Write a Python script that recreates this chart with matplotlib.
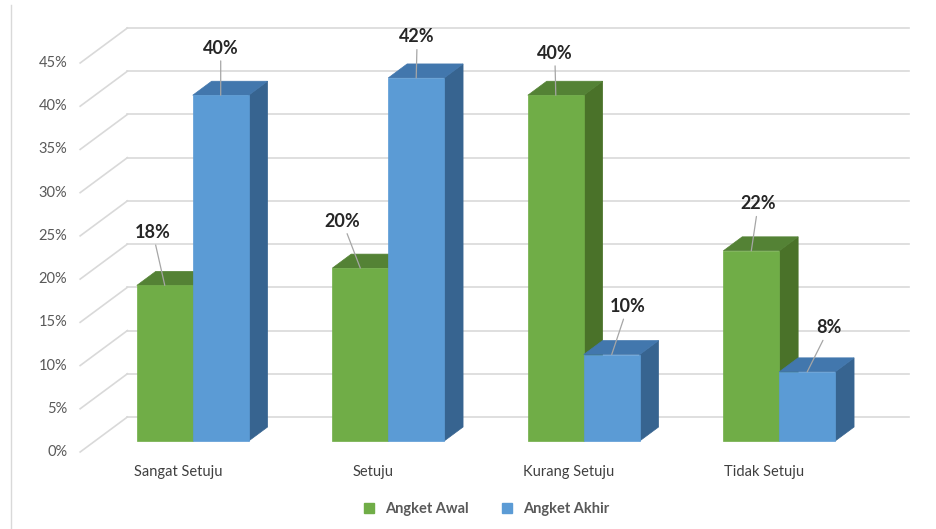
import matplotlib.pyplot as plt
from matplotlib.patches import Polygon
from matplotlib.lines import Line2D

# data
categories = ['Sangat Setuju', 'Setuju', 'Kurang Setuju', 'Tidak Setuju']
series_names = ['Angket Awal', 'Angket Akhir']
angket_awal = [18, 20, 40, 22]
angket_akhir = [40, 42, 10, 8]
y_ticks = [0, 5, 10, 15, 20, 25, 30, 35, 40, 45]

# styling
plt.rcParams['font.family'] = ['Lato', 'DejaVu Sans']
face_colors = [('#70ad47', '#548235', '#4a7229'),   # front, top, side
               ('#5b9bd5', '#4277ad', '#376490')]
label_offsets = [[(-12, 53), (-18, 47), (-1, 42), (7, 47)],
                 [(0, 47), (1, 41), (16, 48), (22, 44)]]
grid_color = '#d9d9d9'
text_color = '#595959'

W, H = 936, 529
fig = plt.figure(figsize=(W / 100, H / 100), dpi=100)
ax = fig.add_axes([95 / W, 88 / H, 782 / W, 389 / H])
ax.set_xlim(-0.5, len(categories) - 0.5)
ax.set_ylim(0, 45)
ax.set_axis_off()

# fake depth: one depth unit = 1.35 px right, 1 px up
px_x = 782 / len(categories)
px_y = 389 / 45
kx, ky = 1.35 / px_x, 1.0 / px_y


def shift(x, y, d):
    return (x + d * kx, y + d * ky)


D_LABEL, D_BAR0, D_BAR1, D_WALL = -11, 0, 14, 24
x_lo, x_hi = ax.get_xlim()

# back wall grid + side diagonals
for t in y_ticks:
    a = shift(x_lo, t, D_WALL)
    b = shift(x_hi, t, D_WALL)
    ax.plot([a[0], b[0]], [a[1], b[1]], color=grid_color, lw=1.2,
            zorder=1, clip_on=False)
    c = shift(x_lo, t, D_LABEL)
    ax.plot([c[0], a[0]], [c[1], a[1]], color=grid_color, lw=1.2,
            zorder=1, clip_on=False)
    ax.annotate(f'{t}%', xy=c, xytext=(-13, 0), textcoords='offset pixels',
                ha='right', va='center', fontsize=10.5, color=text_color,
                annotation_clip=False)

# bars
bar_w = 0.286
for i, cat in enumerate(categories):
    for j, vals in enumerate([angket_awal, angket_akhir]):
        v = vals[i]
        front, top, side = face_colors[j]
        x0 = i - bar_w + j * bar_w
        x1 = x0 + bar_w
        side_poly = [(x1, 0), (x1, v), shift(x1, v, D_BAR1), shift(x1, 0, D_BAR1)]
        top_poly = [(x0, v), (x1, v), shift(x1, v, D_BAR1), shift(x0, v, D_BAR1)]
        front_poly = [(x0, 0), (x1, 0), (x1, v), (x0, v)]
        for poly, col in [(side_poly, side), (top_poly, top), (front_poly, front)]:
            ax.add_patch(Polygon(poly, closed=True, facecolor=col, edgecolor=col,
                                 lw=0.5, zorder=3, clip_on=False))
        dx, dy = label_offsets[j][i]
        ax.annotate(f'{v}%', xy=(x0 + bar_w / 2, v), xytext=(dx, dy),
                    textcoords='offset pixels', ha='center', va='center',
                    fontsize=13, fontweight='bold', color='#262626',
                    annotation_clip=False, zorder=5,
                    arrowprops=dict(arrowstyle='-', color='#a6a6a6', lw=0.9,
                                    shrinkA=1, shrinkB=0))
    lab = shift(i, 0, D_LABEL)
    ax.annotate(cat, xy=lab, xytext=(0, -20), textcoords='offset pixels',
                ha='center', va='center', fontsize=10.5, color='#404040',
                annotation_clip=False)

# legend
handles = [Line2D([], [], marker='s', ls='none', markersize=7,
                  color=face_colors[k][0]) for k in range(2)]
fig.legend(handles, series_names, loc='center', bbox_to_anchor=(482 / W, 20 / H),
           ncol=2, frameon=False, handletextpad=0.1, columnspacing=1.6,
           prop=dict(size=10.5, weight='bold'), labelcolor=text_color)

# left border line
fig.add_artist(Line2D([11 / W, 11 / W], [0, 524 / H], color=grid_color, lw=1))

fig.savefig('out.png', dpi=100)
